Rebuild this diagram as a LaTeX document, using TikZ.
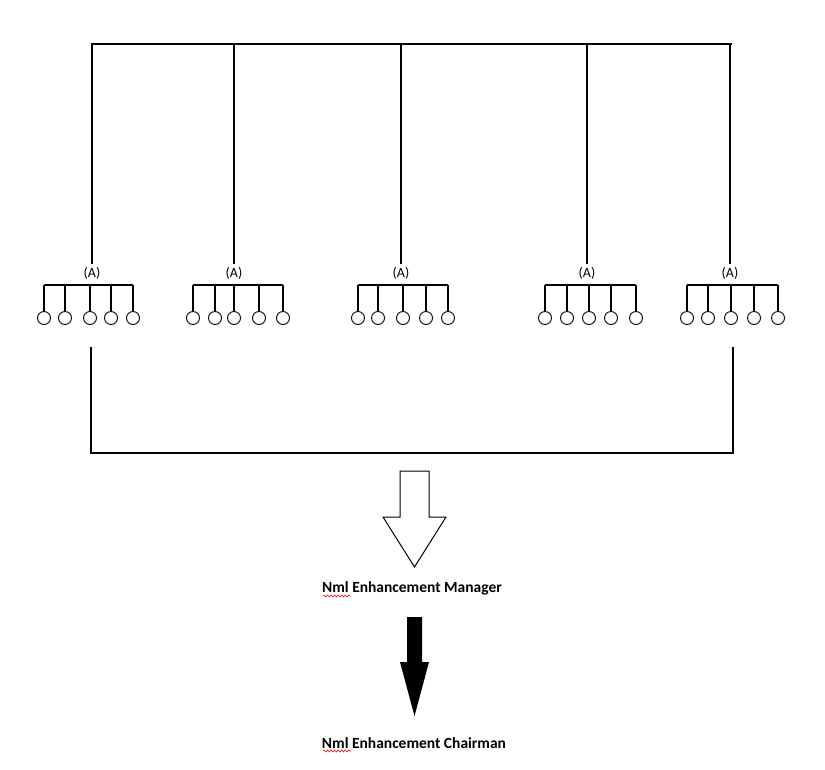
\documentclass[tikz,border=0pt]{standalone}
\usepackage{fontspec}
\setmainfont{Carlito}
\usetikzlibrary{decorations.pathmorphing}

\begin{document}
\begin{tikzpicture}[x=1pt,y=-1pt,line width=1.2pt,
  member/.style={circle,draw,line width=0.9pt,minimum size=13pt,inner sep=0pt},
  grouplabel/.style={font=\fontsize{14}{16}\selectfont,inner sep=2pt},
  title/.style={font=\fontsize{15.5}{18}\selectfont\bfseries,inner sep=0pt},
  spell/.style={red,line width=0.6pt,decorate,decoration={snake,amplitude=1pt,segment length=3.5pt}}]
\useasboundingbox (0,0) rectangle (825,769);
\coordinate (topL) at (91,44);
\coordinate (topR) at (732,44);
\draw (topL) -- (topR);
\foreach \g/\x/\a/\b/\c/\d/\e in {1/92/44/65/90/111/133,
                                  2/234/193/215/234/259/283,
                                  3/401/358/378/403/426/448,
                                  4/587/545/567/589/611/636,
                                  5/730/687/708/731/754/778}{
  \coordinate (drop\g) at (\x,44);
  \node[grouplabel] (lbl\g) at (\x,273) {(A)};
  \draw (drop\g) -- (lbl\g.north);
  \foreach \m [count=\k] in {\a,\b,\c,\d,\e}{
    \coordinate (stem\g-\k) at (\m,285);
    \node[member] (mem\g-\k) at (\m,318) {};
    \draw (stem\g-\k) -- (mem\g-\k);
  }
  \draw (stem\g-1) -- (stem\g-5);
}
\coordinate (brL) at (91,347);
\coordinate (brBL) at (91,453);
\coordinate (brBR) at (733,453);
\coordinate (brR) at (733,347);
\draw (brL) -- (brBL) -- (brBR) -- (brR);
\draw[line width=1pt] (400,471) -- (429,471) -- (429,517) -- (446,517) -- (414.5,567)
  -- (383,517) -- (400,517) -- cycle;
\node[title] (manager) at (412,588) {Nml Enhancement Manager};
\draw[spell] (323,596) -- (350,596);
\fill (407,617) -- (422,617) -- (422,662) -- (429,662) -- (414.5,716)
  -- (400,662) -- (407,662) -- cycle;
\node[title] (chairman) at (414,743) {Nml Enhancement Chairman};
\draw[spell] (323,751) -- (351,751);
\end{tikzpicture}
\end{document}
